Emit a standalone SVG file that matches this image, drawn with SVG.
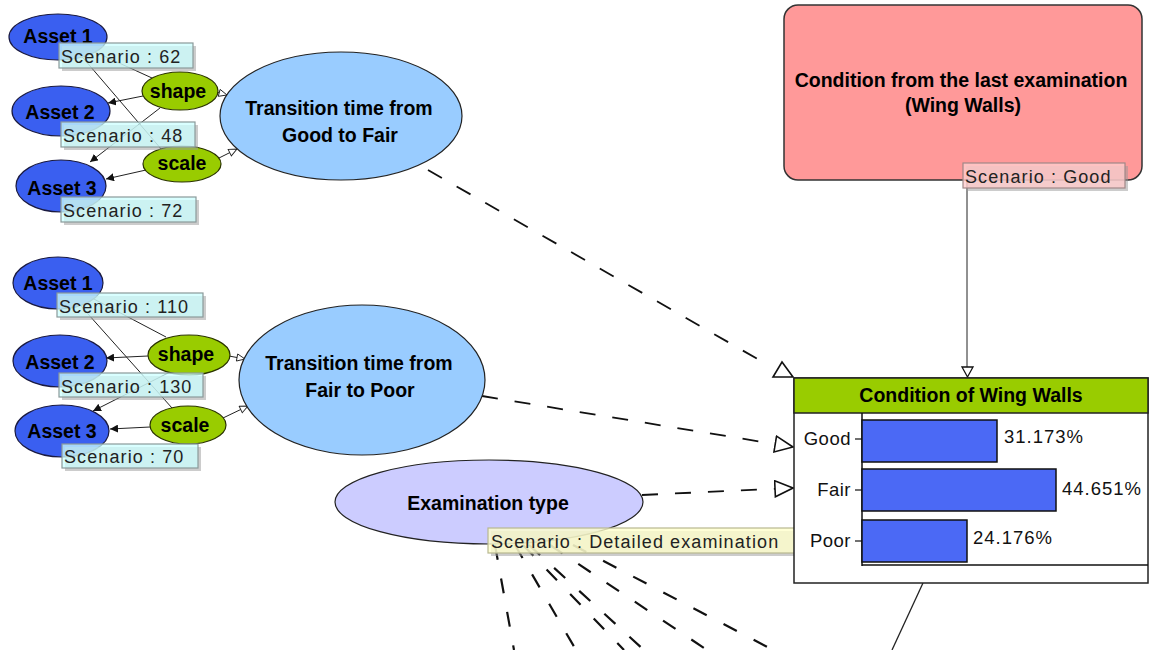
<svg xmlns="http://www.w3.org/2000/svg" width="1149" height="650" viewBox="0 0 1149 650">
<style>
text{font-family:"Liberation Sans",Arial,sans-serif;}
.lb{font-weight:bold;font-size:19.5px;fill:#000;text-anchor:middle;}
.sc{font-size:18px;letter-spacing:1.1px;fill:#222;}
.asset{fill:#3a5ff0;stroke:#1a1a40;stroke-width:1.2;}
.param{fill:#99cc00;stroke:#2a3300;stroke-width:1.2;}
.trans{fill:#99ccff;stroke:#222;stroke-width:1.2;}
.scbox{fill:#ccffff;fill-opacity:0.75;stroke:#8a9a9a;stroke-width:1.2;}
.shadow{fill:#999;fill-opacity:0.5;}
.solid{stroke:#222;stroke-width:1;fill:none;}
.dash{stroke:#111;stroke-width:1.8;fill:none;stroke-dasharray:16 17;}
.dashb{stroke:#111;stroke-width:2.2;fill:none;stroke-dasharray:15 19;}
.bar{fill:#4b69f5;stroke:#111;stroke-width:1.5;}
.pct{font-size:18.5px;letter-spacing:1px;fill:#111;}
.st{font-size:18.5px;letter-spacing:0.5px;fill:#111;text-anchor:end;}
</style>
<defs>
<marker id="fa" viewBox="0 0 8 8" refX="8" refY="4" markerWidth="8" markerHeight="8" markerUnits="userSpaceOnUse" orient="auto"><path d="M0,0 L8,4 L0,8 z" fill="#111"/></marker>
<marker id="ha" viewBox="0 0 10 10" refX="9.5" refY="5" markerWidth="10" markerHeight="9" markerUnits="userSpaceOnUse" orient="auto"><path d="M0.5,1 L9.5,5 L0.5,9 z" fill="#fff" stroke="#222" stroke-width="1"/></marker>
<marker id="hb" viewBox="0 0 20 18" refX="19" refY="9" markerWidth="20" markerHeight="18" markerUnits="userSpaceOnUse" orient="auto"><path d="M1,1 L19,9 L1,17 z" fill="#fff" stroke="#111" stroke-width="1.6"/></marker>
</defs>
<rect width="1149" height="650" fill="#fff"/>

<g id="connectors">
<line class="solid" x1="95" y1="52" x2="152" y2="78"/>
<line class="solid" x1="78" y1="52" x2="162" y2="150"/>
<line class="solid" x1="143" y1="96" x2="108" y2="103" marker-end="url(#fa)"/>
<line class="solid" x1="160" y1="108" x2="90" y2="162" marker-end="url(#fa)"/>
<line class="solid" x1="146" y1="170" x2="106" y2="179" marker-end="url(#fa)"/>
<line class="solid" x1="216" y1="92" x2="227" y2="95" marker-end="url(#ha)"/>
<line class="solid" x1="219" y1="158" x2="237" y2="149" marker-end="url(#ha)"/>
<line class="solid" x1="92" y1="298" x2="166" y2="337"/>
<line class="solid" x1="80" y1="305" x2="172" y2="408"/>
<line class="solid" x1="148" y1="356" x2="106" y2="358" marker-end="url(#fa)"/>
<line class="solid" x1="170" y1="372" x2="93" y2="411" marker-end="url(#fa)"/>
<line class="solid" x1="150" y1="427" x2="110" y2="429" marker-end="url(#fa)"/>
<line class="solid" x1="229" y1="356" x2="245" y2="359" marker-end="url(#ha)"/>
<line class="solid" x1="223" y1="418" x2="248" y2="406" marker-end="url(#ha)"/>
<line class="dash" x1="428" y1="170" x2="768" y2="365"/>
<polygon points="773,377 793,377 782,362" fill="#fff" stroke="#111" stroke-width="1.6"/>
<line class="dash" x1="482" y1="396" x2="793" y2="447" marker-end="url(#hb)"/>
<line class="dash" x1="642" y1="495" x2="793" y2="488" marker-end="url(#hb)"/>
<line class="solid" x1="967" y1="180" x2="967" y2="367"/>
<polygon points="962,367 973,367 967.5,377" fill="#fff" stroke="#111" stroke-width="1.3"/>
<line class="dashb" x1="495" y1="545" x2="514" y2="650"/>
<line class="dashb" x1="515" y1="545" x2="576" y2="650"/>
<line class="dashb" x1="523" y1="545" x2="624" y2="650"/>
<line class="dashb" x1="529" y1="545" x2="644" y2="650"/>
<line class="dashb" x1="550" y1="545" x2="707" y2="650"/>
<line class="dashb" x1="573" y1="545" x2="773" y2="650"/>
<line class="solid" x1="923" y1="583" x2="892" y2="650" style="stroke-width:1.3"/>
</g>

<g id="trans-good-fair">
<ellipse class="trans" cx="341" cy="116" rx="121" ry="64"/>
<text class="lb" x="339" y="115">Transition time from</text>
<text class="lb" x="340" y="142">Good to Fair</text>
</g>
<g id="trans-fair-poor">
<ellipse class="trans" cx="362" cy="380" rx="123" ry="75"/>
<text class="lb" x="359" y="370">Transition time from</text>
<text class="lb" x="360" y="397">Fair to Poor</text>
</g>

<g id="c1-shape"><ellipse class="param" cx="180" cy="91" rx="38" ry="19"/><text class="lb" x="178" y="98">shape</text></g>
<g id="c1-scale"><ellipse class="param" cx="182" cy="164" rx="39" ry="18"/><text class="lb" x="182" y="170">scale</text></g>
<g id="c2-shape"><ellipse class="param" cx="189" cy="355" rx="41" ry="20"/><text class="lb" x="186" y="361">shape</text></g>
<g id="c2-scale"><ellipse class="param" cx="188" cy="425" rx="38" ry="19"/><text class="lb" x="185" y="432">scale</text></g>

<g id="c1-asset1">
<ellipse class="asset" cx="58" cy="37" rx="49" ry="23"/>
<text class="lb" x="58" y="43">Asset 1</text>
<rect class="shadow" x="62" y="46" width="134" height="25"/>
<rect class="scbox" x="59" y="43" width="134" height="25"/>
<text class="sc" x="61" y="63">Scenario : 62</text>
</g>
<g id="c1-asset2">
<ellipse class="asset" cx="61" cy="111" rx="49" ry="25"/>
<text class="lb" x="60" y="119">Asset 2</text>
<rect class="shadow" x="64" y="125" width="134" height="25"/>
<rect class="scbox" x="61" y="122" width="134" height="25"/>
<text class="sc" x="63" y="142">Scenario : 48</text>
</g>
<g id="c1-asset3">
<ellipse class="asset" cx="61" cy="186" rx="45" ry="26"/>
<text class="lb" x="62" y="195">Asset 3</text>
<rect class="shadow" x="64" y="200" width="135" height="25"/>
<rect class="scbox" x="61" y="197" width="135" height="25"/>
<text class="sc" x="63" y="217">Scenario : 72</text>
</g>

<g id="c2-asset1">
<ellipse class="asset" cx="58" cy="283" rx="45" ry="26"/>
<text class="lb" x="58" y="290">Asset 1</text>
<rect class="shadow" x="60" y="296" width="146" height="24"/>
<rect class="scbox" x="57" y="293" width="146" height="24"/>
<text class="sc" x="59" y="313">Scenario : 110</text>
</g>
<g id="c2-asset2">
<ellipse class="asset" cx="60" cy="361" rx="47" ry="26"/>
<text class="lb" x="60" y="369">Asset 2</text>
<rect class="shadow" x="62" y="376" width="144" height="24"/>
<rect class="scbox" x="59" y="373" width="144" height="24"/>
<text class="sc" x="61" y="393">Scenario : 130</text>
</g>
<g id="c2-asset3">
<ellipse class="asset" cx="62" cy="431" rx="47" ry="26"/>
<text class="lb" x="62" y="438">Asset 3</text>
<rect class="shadow" x="65" y="447" width="136" height="24"/>
<rect class="scbox" x="62" y="444" width="136" height="24"/>
<text class="sc" x="64" y="463">Scenario : 70</text>
</g>

<g id="examination-type">
<ellipse cx="489" cy="502" rx="154" ry="42" fill="#ccccff" stroke="#222" stroke-width="1.2"/>
<text class="lb" x="488" y="510">Examination type</text>
<rect class="shadow" x="491" y="531" width="308" height="25"/>
<rect x="488" y="528" width="308" height="25" fill="#ffffcc" fill-opacity="0.8" stroke="#b8b890" stroke-width="1.2"/>
<text class="sc" x="491" y="548">Scenario : Detailed examination</text>
</g>

<g id="last-examination">
<rect x="784" y="5" width="358" height="175" rx="14" fill="#ff9999" stroke="#333" stroke-width="1.5"/>
<text class="lb" x="961" y="87">Condition from the last examination</text>
<text class="lb" x="963" y="112">(Wing Walls)</text>
<rect class="shadow" x="966" y="166" width="162" height="25"/>
<rect x="963" y="163" width="162" height="25" fill="#ffcccc" fill-opacity="0.8" stroke="#a08888" stroke-width="1.2"/>
<text class="sc" x="965" y="183">Scenario : Good</text>
</g>

<g id="condition-wing-walls">
<rect x="794" y="378" width="354" height="205" fill="#fff" stroke="#222" stroke-width="1.5"/>
<rect x="794" y="378" width="354" height="35" fill="#99cc00" stroke="#222" stroke-width="1.5"/>
<text class="lb" x="971" y="402">Condition of Wing Walls</text>
<line x1="862" y1="413" x2="862" y2="566" stroke="#111" stroke-width="1.5"/>
<line x1="862" y1="565" x2="1148" y2="565" stroke="#111" stroke-width="1.5"/>
<rect class="bar" x="862" y="420" width="135" height="42"/>
<rect class="bar" x="862" y="469" width="194" height="42"/>
<rect class="bar" x="862" y="520" width="105" height="42"/>
<line x1="855" y1="439" x2="862" y2="439" stroke="#111" stroke-width="1.2"/>
<line x1="855" y1="490" x2="862" y2="490" stroke="#111" stroke-width="1.2"/>
<line x1="855" y1="541" x2="862" y2="541" stroke="#111" stroke-width="1.2"/>
<text class="st" x="851" y="445">Good</text>
<text class="st" x="851" y="496">Fair</text>
<text class="st" x="851" y="547">Poor</text>
<text class="pct" x="1004" y="443">31.173%</text>
<text class="pct" x="1062" y="495">44.651%</text>
<text class="pct" x="973" y="544">24.176%</text>
</g>
</svg>
